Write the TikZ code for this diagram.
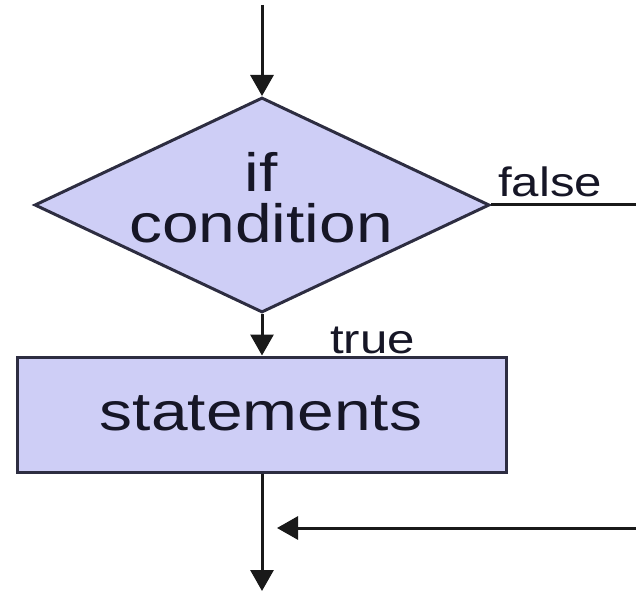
\documentclass[tikz,border=0pt]{standalone}
\usepackage{fontspec}
\setmainfont{Liberation Sans}
\usetikzlibrary{shapes.geometric,arrows.meta}
\definecolor{boxfill}{RGB}{206,206,246}
\definecolor{boxline}{RGB}{45,45,65}
\definecolor{txt}{RGB}{22,22,38}
\tikzset{
  shapeline/.style={draw=boxline, line width=3pt, fill=boxfill},
  conn/.style={draw=black!90, line width=3pt},
  arr/.style={conn, -{Triangle[length=21pt,width=23pt]}},
  bigtext/.style={text=txt, font=\fontsize{54}{51}\selectfont, align=center, inner sep=0pt, xscale=1.22},
  lbl/.style={text=txt, font=\fontsize{41}{44}\selectfont, inner sep=0pt, xscale=1.2},
}
\begin{document}
\begin{tikzpicture}[x=1pt,y=-1pt]
\useasboundingbox (0,0) rectangle (636,593);
\node[diamond, shapeline, minimum width=455pt, minimum height=215pt, inner sep=0pt] (dec) at (262,205) {};
\node[bigtext] (condtext) at (261,198) {if\\condition};
\node[rectangle, shapeline, minimum width=489pt, minimum height=115pt, inner sep=0pt] (stmt) at (261.5,414.5) {};
\node[bigtext] (stmttext) at (261,413.5) {statements};
\coordinate (start) at (262,5);
\coordinate (falseend) at (637,205);
\coordinate (loopin) at (637,528);
\coordinate (looptip) at (277,528);
\coordinate (finish) at (262,591);
\draw[arr] (start) -- (dec.north);
\draw[arr] (dec.south) -- (stmt.north -| dec.south);
\draw[conn] (dec.east) -- (falseend);
\draw[arr] (stmt.south -| finish) -- (finish);
\draw[arr] (loopin) -- (looptip);
\node[lbl, anchor=base west] (falselbl) at (498,197) {false};
\node[lbl, anchor=base west] (truelbl) at (330,353) {true};
\end{tikzpicture}
\end{document}
